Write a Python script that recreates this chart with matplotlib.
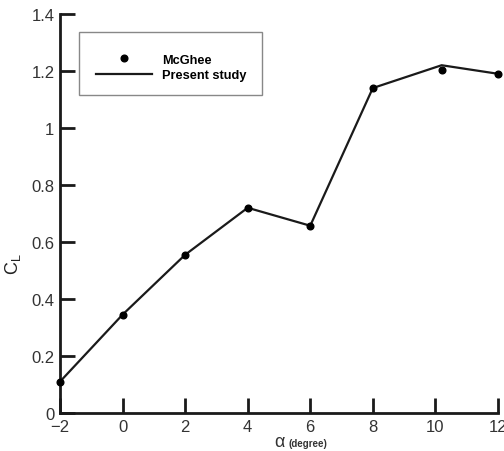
import matplotlib
matplotlib.use("Agg")
import matplotlib.pyplot as plt
from matplotlib.patches import Rectangle

# Data
mcghee_alpha = [-2, 0, 2, 4, 6, 8, 10.2, 12]
mcghee_cl = [0.11, 0.345, 0.555, 0.72, 0.657, 1.14, 1.205, 1.19]
present_alpha = [-2, 0, 2, 4, 6, 8, 10.2, 12]
present_cl = [0.11, 0.345, 0.555, 0.72, 0.657, 1.14, 1.22, 1.19]
xticks = [-2, 0, 2, 4, 6, 8, 10, 12]
yticks = [0, 0.2, 0.4, 0.6, 0.8, 1.0, 1.2, 1.4]
ytick_labels = ["0", "0.2", "0.4", "0.6", "0.8", "1", "1.2", "1.4"]
xtick_labels = ["\u22122", "0", "2", "4", "6", "8", "10", "12"]

plt.rcParams['font.family'] = ['Liberation Sans', 'DejaVu Sans']

fig = plt.figure(figsize=(5.04, 4.52), dpi=100)
ax = fig.add_axes([0.119, 0.084, 0.869, 0.883])

ax.plot(present_alpha, present_cl, color='#1a1a1a', lw=1.6, label='Present study', zorder=2)
ax.plot(mcghee_alpha, mcghee_cl, 'o', color='black', ms=4.8, ls='none', label='McGhee', zorder=3)

ax.set_xlim(-2, 12)
ax.set_ylim(0, 1.4)
ax.set_xticks(xticks)
ax.set_xticklabels(xtick_labels)
ax.set_yticks(yticks)
ax.set_yticklabels(ytick_labels)
for s in ['top', 'right']:
    ax.spines[s].set_visible(False)
for s in ['left', 'bottom']:
    ax.spines[s].set_linewidth(2)
    ax.spines[s].set_color('#1a1a1a')
ax.tick_params(direction='in', length=11, width=2, color='#1a1a1a',
               labelsize=12, labelcolor='#333333', pad=4)
for ln in ax.lines:
    ln.set_clip_on(False)

ax.set_ylabel('C$_{\\mathregular{L}}$', fontsize=13, color='#222222')
ax.yaxis.set_label_coords(-0.085, 0.375)
ax.text(0.512, -0.082, '\u03b1', transform=ax.transAxes, fontsize=13,
        color='#333333', ha='right', va='baseline')
ax.text(0.522, -0.082, '(degree)', transform=ax.transAxes, fontsize=7,
        color='#333333', ha='left', va='baseline', fontweight='bold')

# legend frame box
ax.add_patch(Rectangle((0.0434, 0.797), 0.418, 0.158, transform=ax.transAxes,
                       fill=False, edgecolor='#888888', lw=1, zorder=4))

handles, labels = ax.get_legend_handles_labels()
leg = ax.legend(handles[::-1], labels[::-1], loc='upper left',
                bbox_to_anchor=(0.0525, 0.9325), frameon=False,
                prop={'weight': 'bold', 'size': 9.2}, handlelength=4.4,
                borderpad=1.0, labelspacing=0.3, handletextpad=0.8,
                borderaxespad=0)

fig.savefig('out.png', dpi=100)
